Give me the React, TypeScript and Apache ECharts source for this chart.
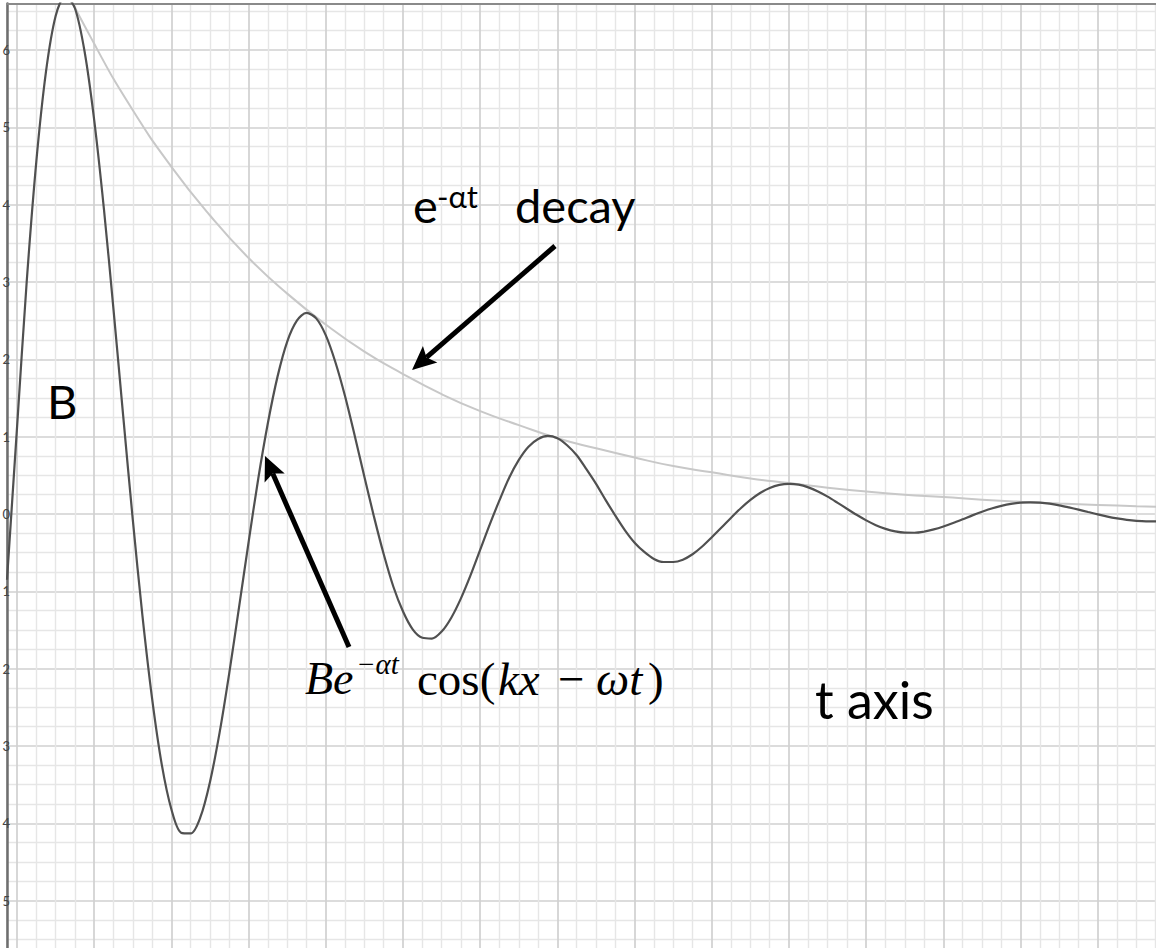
import React, { useEffect, useRef } from "react";
import * as echarts from "echarts";

// Damped wave  B·e^(−αt)·cos(kx − ωt), sampled along t
const waveT = [
  -0.13, 0, 0.125, 0.25, 0.375, 0.5, 0.625, 0.75, 0.875, 1.0, 1.125, 1.25, 1.375, 1.5, 1.625, 1.75, 1.875,
  2.0, 2.125, 2.25, 2.375, 2.5, 2.625, 2.75, 2.875, 3.0, 3.125, 3.25, 3.375, 3.5, 3.625, 3.75, 3.875,
  4.0, 4.125, 4.25, 4.375, 4.5, 4.625, 4.75, 4.875, 5.0, 5.125, 5.25, 5.375, 5.5, 5.625, 5.75, 5.875,
  6.0, 6.125, 6.25, 6.375, 6.5, 6.625, 6.75, 6.875, 7.0, 7.125, 7.25, 7.375, 7.5, 7.625, 7.75, 7.875,
  8.0, 8.125, 8.25, 8.375, 8.5, 8.625, 8.75, 8.875, 9.0, 9.125, 9.25, 9.375, 9.5, 9.625, 9.75, 9.875,
  10.0, 10.125, 10.25, 10.375, 10.5, 10.625, 10.75, 10.875, 11.0, 11.125, 11.25, 11.375, 11.5, 11.625,
  11.75, 11.875, 12.0, 12.125, 12.25, 12.375, 12.5, 12.625, 12.75, 12.875, 13.0, 13.125, 13.25, 13.375,
  13.5, 13.625, 13.75, 13.875, 14.0, 14.125, 14.25, 14.375, 14.5, 14.625, 14.75, 14.875, 15.0,
];
const waveB = [
  -0.85, 1.12, 3.0, 4.56, 5.72, 6.44, 6.7, 6.54, 5.98, 5.09, 3.95, 2.64, 1.27, -0.08, -1.32, -2.39, -3.24,
  -3.82, -4.12, -4.13, -3.92, -3.46, -2.82, -2.05, -1.21, -0.36, 0.46, 1.18, 1.78, 2.23, 2.5, 2.6, 2.53,
  2.31, 1.96, 1.52, 1.01, 0.48, -0.04, -0.52, -0.94, -1.26, -1.49, -1.6, -1.61, -1.52, -1.34, -1.09, -0.79,
  -0.46, -0.13, 0.18, 0.47, 0.7, 0.87, 0.97, 1.01, 0.98, 0.89, 0.76, 0.58, 0.39, 0.18, -0.02, -0.21,
  -0.37, -0.49, -0.58, -0.62, -0.62, -0.59, -0.52, -0.42, -0.3, -0.175, -0.047, 0.075, 0.183, 0.272, 0.338, 0.378,
  0.391, 0.38, 0.345, 0.292, 0.225, 0.148, 0.068, -0.01, -0.082, -0.144, -0.192, -0.225, -0.241, -0.242,
  -0.227, -0.199, -0.161, -0.116, -0.067, -0.017, 0.03, 0.072, 0.106, 0.132, 0.147, 0.152, 0.147, 0.134,
  0.113, 0.086, 0.057, 0.026, -0.005, -0.033, -0.056, -0.075, -0.088, -0.094, -0.094, -0.088, -0.077,
];

// e^(−αt) decay envelope
const envelopeT = [
  0, 0.5, 1.0, 1.5, 2.0, 2.5, 3.0, 3.5, 4.0, 4.5, 5.0, 5.5, 6.0, 6.5, 7.0, 7.5,
  8.0, 8.5, 9.0, 9.5, 10.0, 10.5, 11.0, 11.5, 12.0, 12.5, 13.0, 13.5, 14.0, 14.5, 15.0,
];
const envelopeB = [
  8.23, 7.07, 6.08, 5.22, 4.49, 3.86, 3.31, 2.85, 2.45, 2.1, 1.81, 1.55, 1.33, 1.15, 0.98, 0.85,
  0.73, 0.62, 0.54, 0.46, 0.4, 0.34, 0.29, 0.25, 0.22, 0.185, 0.159, 0.137, 0.118, 0.101, 0.087,
];

const X_MIN = -0.13;
const X_MAX = 15;
const Y_MIN = -6;
const Y_MAX = 6.6;

const LATO = "Lato, 'Open Sans', sans-serif";
const SERIF = "'Liberation Serif', 'Times New Roman', serif";

type Pt = [number, number];

// straight shaft + notched arrow head, pointing from tail to tip
function arrow(tail: Pt, tip: Pt, headLen: number, headHalf: number) {
  const dx = tip[0] - tail[0];
  const dy = tip[1] - tail[1];
  const len = Math.hypot(dx, dy);
  const ux = dx / len;
  const uy = dy / len;
  const px = -uy;
  const py = ux;
  const bx = tip[0] - ux * headLen;
  const by = tip[1] - uy * headLen;
  const nx = tip[0] - ux * headLen * 0.8;
  const ny = tip[1] - uy * headLen * 0.8;
  return [
    {
      type: "line",
      shape: { x1: tail[0], y1: tail[1], x2: nx, y2: ny },
      style: { stroke: "#000", lineWidth: 5 },
      z: 50,
    },
    {
      type: "polygon",
      shape: {
        points: [
          [tip[0], tip[1]],
          [bx + px * headHalf, by + py * headHalf],
          [nx, ny],
          [bx - px * headHalf, by - py * headHalf],
        ],
      },
      style: { fill: "#000" },
      z: 50,
    },
  ];
}

// one piece of text placed by its left edge and vertical middle
function label(text: string, x: number, y: number, size: number, family: string, italic = false) {
  return {
    type: "text",
    x,
    y,
    z: 60,
    style: {
      text,
      fontSize: size,
      fontFamily: family,
      fontStyle: italic ? "italic" : "normal",
      fill: "#000",
      align: "left",
      verticalAlign: "middle",
    },
  };
}

export default function App() {
  const ref = useRef<HTMLDivElement>(null);

  useEffect(() => {
    if (!ref.current) return;
    const chart = echarts.init(ref.current, null, { renderer: "svg" });

    const wave = waveT.map((t, i) => [t, waveB[i]]);
    const envelope = envelopeT.map((t, i) => [t, envelopeB[i]]);

    const majorLine = { show: true, lineStyle: { color: "#d0d0d0", width: 1.7 } };
    const minorLine = { show: true, lineStyle: { color: "#e6e6e6", width: 1.4 } };

    chart.setOption({
      animation: false,
      backgroundColor: "#fff",
      grid: {
        left: 7,
        top: 3.6,
        width: (X_MAX - X_MIN) * 77.2,
        height: (Y_MAX - Y_MIN) * 77.34,
        containLabel: false,
        outerBoundsMode: "none",
      },
      xAxis: [
        {
          type: "value",
          min: X_MIN,
          max: X_MAX,
          splitNumber: 15,
          minInterval: 1,
          maxInterval: 1,
          axisLine: { show: false, onZero: false },
          axisTick: { show: false },
          axisLabel: { show: false },
          splitLine: majorLine,
          minorTick: { show: false, splitNumber: 4 },
          minorSplitLine: minorLine,
        },
        {
          type: "value",
          position: "top",
          min: X_MIN,
          max: X_MAX,
          axisLine: { show: true, onZero: false, lineStyle: { color: "#8a8a8a", width: 2 } },
          axisTick: { show: false },
          axisLabel: { show: false },
          splitLine: { show: false },
        },
      ],
      yAxis: {
        type: "value",
        min: Y_MIN,
        max: Y_MAX,
        interval: 1,
        axisLine: { show: true, onZero: false, lineStyle: { color: "#6e6e6e", width: 2.5 } },
        axisTick: { show: false },
        axisLabel: {
          margin: -3,
          fontSize: 13,
          fontFamily: LATO,
          color: "#444",
          showMinLabel: false,
          showMaxLabel: false,
          formatter: (v: number) => (Number.isInteger(v) && v > Y_MIN ? String(Math.abs(v)) : ""),
        },
        splitLine: majorLine,
        minorTick: { show: false, splitNumber: 4 },
        minorSplitLine: minorLine,
      },
      series: [
        {
          name: "decay",
          type: "line",
          data: envelope,
          smooth: true,
          showSymbol: false,
          silent: true,
          lineStyle: { color: "#c8c8c8", width: 2 },
          z: 3,
        },
        {
          name: "wave",
          type: "line",
          data: wave,
          smooth: 0.3,
          showSymbol: false,
          silent: true,
          lineStyle: { color: "#505050", width: 2.2 },
          z: 4,
        },
      ],
      graphic: [
        label("B", 47, 401, 47, LATO),
        label("e", 413, 205, 47, LATO),
        label("-αt", 437, 196, 31, LATO),
        label("decay", 515, 205, 47, LATO),
        label("t axis", 815, 699, 52, LATO),
        // Be^(−αt) cos(kx − ωt)
        label("Be", 305, 678.5, 46, SERIF, true),
        label("−αt", 356, 663.5, 29, SERIF, true),
        label("cos(", 417, 678.5, 47, SERIF),
        label("kx", 498, 678.5, 47, SERIF, true),
        label("−", 558, 678.5, 47, SERIF),
        label("ωt", 596, 678.5, 47, SERIF, true),
        label(")", 648, 678.5, 47, SERIF),
        ...arrow([555, 246], [412, 370], 24, 11),
        ...arrow([349, 647], [265, 456], 24, 11),
      ],
    });

    return () => chart.dispose();
  }, []);

  return (
    <div
      style={{
        position: "fixed",
        left: 0,
        top: 0,
        width: 1156,
        height: 948,
        overflow: "hidden",
        background: "#fff",
      }}
    >
      <div ref={ref} style={{ width: 1200, height: 1000 }} />
    </div>
  );
}
